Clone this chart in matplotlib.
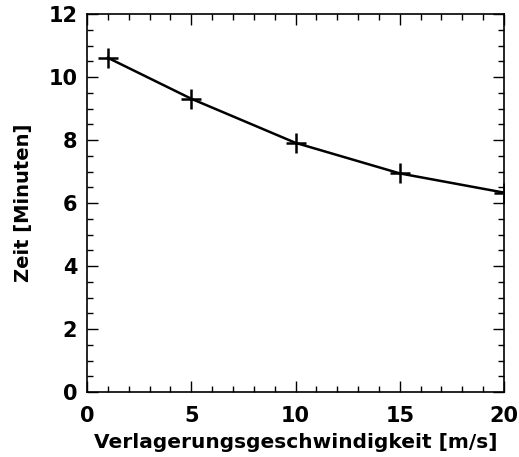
import matplotlib
matplotlib.use("Agg")
import matplotlib.pyplot as plt
from matplotlib.ticker import MultipleLocator

# Verlagerungsgeschwindigkeit [m/s] vs. Zeit [Minuten]
geschwindigkeit = [1, 5, 10, 15, 20]
zeit = [10.61, 9.31, 7.91, 6.94, 6.33]

fig = plt.figure(figsize=(5.19, 4.57), dpi=100)
ax = fig.add_axes([87 / 519, 1 - 392 / 457, 417 / 519, 378 / 457])

ax.plot(geschwindigkeit, zeit, color='black', linewidth=1.8,
        marker='+', markersize=14, markeredgewidth=1.8, clip_on=True)

ax.set_xlim(0, 20)
ax.set_ylim(0, 12)
ax.xaxis.set_major_locator(MultipleLocator(5))
ax.xaxis.set_minor_locator(MultipleLocator(1))
ax.yaxis.set_major_locator(MultipleLocator(2))
ax.yaxis.set_minor_locator(MultipleLocator(0.5))

ax.tick_params(which='both', direction='in', top=True, right=True, width=1, colors='black')
ax.tick_params(which='major', length=8, labelsize=15)
ax.tick_params(axis='x', which='major', pad=10)
ax.tick_params(axis='y', which='major', pad=7)
ax.tick_params(which='minor', length=4)
for lab in ax.get_xticklabels() + ax.get_yticklabels():
    lab.set_fontweight('bold')
for s in ax.spines.values():
    s.set_linewidth(1.2)

ax.set_xlabel("Verlagerungsgeschwindigkeit [m/s]", fontsize=14.5, fontweight='bold', labelpad=5)
ax.set_ylabel("Zeit [Minuten]", fontsize=14, fontweight='bold', labelpad=11)

fig.savefig("out.png", dpi=100)
